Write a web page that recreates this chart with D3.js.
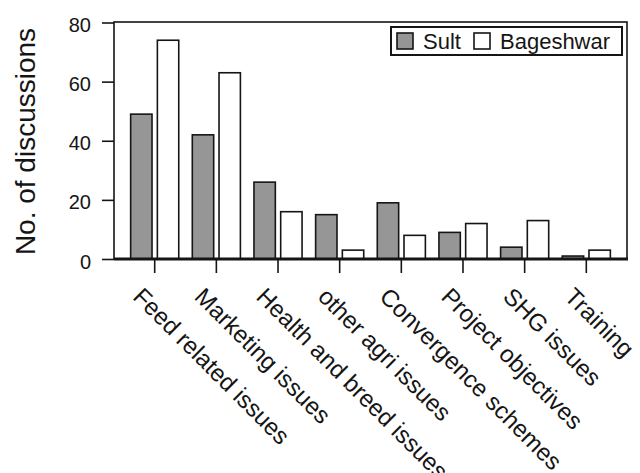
<!DOCTYPE html>
<html>
<head>
<meta charset="utf-8">
<script src="https://cdn.jsdelivr.net/npm/d3@7"></script>
<style>
  body { margin: 0; background: #fff; }
  svg { display: block; font-family: "Liberation Sans", Arial, sans-serif; }
</style>
</head>
<body>
<svg id="chart"></svg>
<script>
// data
const categories = ["Feed related issues", "Marketing issues", "Health and breed issues",
  "other agri issues", "Convergence schemes", "Project objectives", "SHG issues", "Training"];
const seriesNames = ["Sult", "Bageshwar"];
const sult = [49, 42, 26, 15, 19, 9, 4, 1];
const bageshwar = [74, 63, 16, 3, 8, 12, 13, 3];
const yTicks = [0, 20, 40, 60, 80];

const width = 640, height = 473;
const plot = { left: 114, right: 627, top: 22, bottom: 259 };
const colors = { Sult: '#969696', Bageshwar: '#ffffff' };
const ink = '#151515';

const svg = d3.select('#chart')
  .attr('width', width)
  .attr('height', height);

// scales
const x = d3.scaleBand()
  .domain(categories)
  .range([plot.left, plot.right])
  .paddingInner(0.22)
  .paddingOuter(0.27);

const xSub = d3.scaleBand()
  .domain(seriesNames)
  .range([0, x.bandwidth()])
  .paddingInner(0.2);

const y = d3.scaleLinear()
  .domain([0, 80])
  .range([plot.bottom, plot.top + 0.5]);

// rows for the grouped bars
const rows = categories.map((c, i) => ({
  category: c,
  values: [{ key: 'Sult', value: sult[i] }, { key: 'Bageshwar', value: bageshwar[i] }]
}));

// plot frame
svg.append('rect')
  .attr('x', plot.left)
  .attr('y', plot.top)
  .attr('width', plot.right - plot.left)
  .attr('height', plot.bottom - plot.top)
  .attr('fill', 'none')
  .attr('stroke', ink)
  .attr('stroke-width', 1.6);

// bars
svg.append('g')
  .selectAll('g')
  .data(rows)
  .join('g')
  .attr('transform', d => `translate(${x(d.category)},0)`)
  .selectAll('rect')
  .data(d => d.values)
  .join('rect')
  .attr('x', d => xSub(d.key))
  .attr('y', d => y(d.value))
  .attr('width', xSub.bandwidth())
  .attr('height', d => y(0) - y(d.value))
  .attr('fill', d => colors[d.key])
  .attr('stroke', ink)
  .attr('stroke-width', 1.6);

// y axis
const yAxisG = svg.append('g')
  .attr('transform', `translate(${plot.left},0)`)
  .call(d3.axisLeft(y).tickValues(yTicks).tickSize(12).tickSizeOuter(0).tickPadding(11));
yAxisG.select('.domain').remove();
yAxisG.selectAll('.tick line').attr('stroke', ink).attr('stroke-width', 1.6);
yAxisG.selectAll('.tick text')
  .attr('fill', ink)
  .attr('dy', '0.45em')
  .style('font-size', '20px')
  .style('font-family', '"Liberation Sans", Arial, sans-serif');

// x axis
const xAxisG = svg.append('g')
  .attr('transform', `translate(0,${plot.bottom})`)
  .call(d3.axisBottom(x).tickSize(14).tickSizeOuter(0));
xAxisG.select('.domain').remove();
xAxisG.selectAll('.tick line').attr('stroke', ink).attr('stroke-width', 1.6);
xAxisG.selectAll('.tick text')
  .attr('fill', ink)
  .attr('x', 0)
  .attr('y', 0)
  .attr('dy', 0)
  .attr('text-anchor', 'start')
  .attr('transform', 'translate(-23,39) rotate(45)')
  .style('font-size', '24px')
  .style('font-family', '"Liberation Sans", Arial, sans-serif');

// thick baseline
svg.append('line')
  .attr('x1', plot.left)
  .attr('x2', plot.right + 1)
  .attr('y1', y(0))
  .attr('y2', y(0))
  .attr('stroke', ink)
  .attr('stroke-width', 3);

// y label
svg.append('text')
  .attr('transform', `translate(35,141.5) rotate(-90)`)
  .attr('text-anchor', 'middle')
  .attr('fill', ink)
  .style('font-size', '28px')
  .text('No. of discussions');

// legend
const legend = svg.append('g');
legend.append('rect')
  .attr('x', 391)
  .attr('y', 27)
  .attr('width', 231)
  .attr('height', 28)
  .attr('fill', '#fff')
  .attr('stroke', ink)
  .attr('stroke-width', 2);

const legendX = [397, 474];
const items = legend.selectAll('.item')
  .data(seriesNames)
  .join('g')
  .attr('class', 'item')
  .attr('transform', (d, i) => `translate(${legendX[i]},33)`);
items.append('rect')
  .attr('width', 16)
  .attr('height', 16)
  .attr('fill', d => colors[d])
  .attr('stroke', ink)
  .attr('stroke-width', 1.6);
items.append('text')
  .attr('x', 26)
  .attr('y', 16)
  .attr('fill', ink)
  .style('font-size', '22px')
  .text(d => d);
</script>
</body>
</html>
